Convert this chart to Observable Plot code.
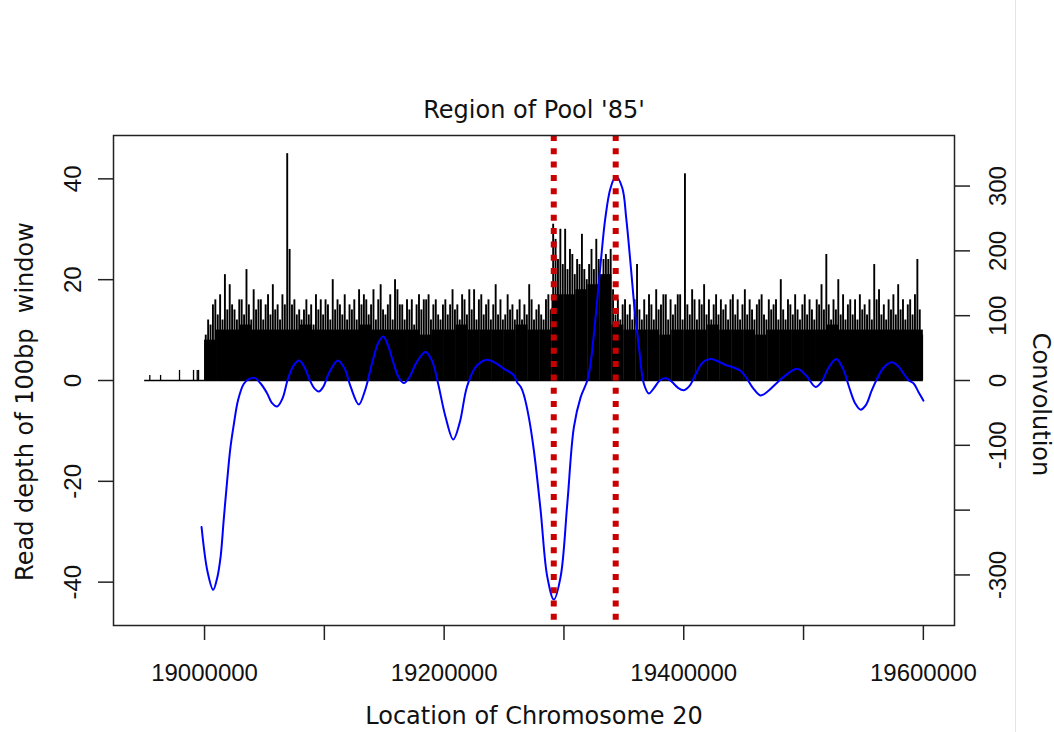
<!DOCTYPE html>
<html><head><meta charset="utf-8">
<script src="https://cdn.jsdelivr.net/npm/d3@7"></script>
<script src="https://cdn.jsdelivr.net/npm/@observablehq/plot@0.6"></script>
<style>
html,body{margin:0;padding:0;background:#fff;}
#chart{position:relative;width:1054px;height:732px;overflow:hidden;}
#edge{position:absolute;left:1015px;top:0;width:1px;height:732px;background:#e4e4e4;}
</style></head><body><div id="chart"><div id="edge"></div></div>
<script>
// ---------- text ----------
const title = "Region of Pool '85'";
const xLabel = "Location of Chromosome 20";
const yLabel = "Read depth of 100bp  window";
const y2Label = "Convolution";

// ---------- read depth (100bp windows, summarised) ----------
const readStart = 18950000;
const readEnd = 19600000;
const sparsePos = [18954300, 18963300, 18979100, 18990800, 18993900, 18995000];
const sparseDepth = [1, 1, 2, 2, 2, 2];

// solid body level of the dense read depth, 10 kb bins from 19,000,000
const floorStart = 19000000;
const floorStep = 10000;
const floorDepth = [8,10,10,11,10,10,10,10,11,10, 10,10,10,11,10,10,10,10,9,10,
  10,11,10,10,10,10,11,10,10,17, 17,18,19,21,11,10,10,10,9,10,
  10,10,11,10,10,10,9,10,10,10, 10,10,11,10,10,10,10,10,10,10];

// visible window tops, 2 kb bins from 19,000,000
const binStart = 19000000;
const binStep = 2000;
const binDepth = [
  9,12,11,15,16,13,17,12,21,14,
  19,15,14,12,16,16,13,22,15,12,
  18,14,16,16,12,15,17,13,19,14,
  15,12,17,15,45,26,15,16,13,14,
  12,14,16,13,15,11,17,14,16,13,
  16,15,12,20,14,16,15,13,17,12,
  15,14,16,12,18,15,17,16,13,15,
  18,12,16,19,14,13,15,17,12,20,
  18,15,15,12,16,14,16,11,15,17,
  14,16,16,17,12,15,16,13,12,15,
  16,13,15,18,14,15,12,17,16,13,
  18,14,18,12,16,17,13,15,16,12,
  15,19,13,16,12,13,17,14,15,12,
  14,16,12,15,13,19,16,12,14,15,
  13,12,16,17,14,31,28,24,30,23,
  30,22,26,25,21,24,23,29,22,20,
  23,26,22,28,24,20,24,25,24,26,
  18,13,16,12,15,16,13,15,12,16,
  23,14,12,16,13,17,15,12,18,14,
  15,17,17,12,16,13,15,17,17,12,
  41,15,13,18,16,12,16,15,19,13,
  16,12,15,17,13,16,14,15,12,16,
  17,13,16,12,15,18,13,16,14,12,
  15,16,17,13,12,16,14,15,16,12,
  20,14,12,16,15,13,17,14,12,15,
  17,13,16,14,12,16,15,19,14,25,
  15,12,16,14,20,13,17,12,15,16,
  13,16,12,17,14,15,13,16,12,23,
  16,18,13,15,12,16,14,17,13,19,
  14,16,12,15,16,13,17,24,14,9];

// ---------- convolution ----------
const convPos = [18997500,19002500,19007200,19010500,19013400,19016000,19018900,19021500,19024500,19028000,
  19032800,19037000,19041700,19047000,19052300,19056000,19060600,19065000,19070000,19075000,
  19079000,19083000,19088000,19092000,19095400,19099000,19104000,19111300,19117000,19122000,
  19128800,19134000,19140000,19145000,19149200,19153000,19158000,19162000,19166400,19171000,
  19177000,19184500,19190000,19195000,19201000,19207600,19213000,19219000,19226000,19235400,
  19242000,19250000,19258200,19261000,19264000,19266500,19270500,19274900,19280500,19286100,
  19291600,19297200,19302800,19308300,19313900,19319500,19322200,19326000,19330600,19334500,
  19338900,19343400,19348700,19352000,19355600,19359000,19362600,19366700,19370900,19375000,
  19380000,19384800,19390000,19395000,19400100,19405000,19410000,19416000,19422400,19428000,
  19435000,19441800,19447400,19452000,19458000,19464100,19470000,19477000,19485000,19494700,
  19502000,19510000,19515000,19521000,19527300,19533000,19538000,19543000,19547600,19552000,
  19557000,19562000,19567000,19573500,19579000,19583800,19588000,19592100,19596000,19600000];
const convVal = [-226,-295,-323,-305,-272,-215,-154,-105,-67,-30,
  -5,2,4,-5,-20,-34,-40,-28,5,25,
  31,22,0,-13,-17,-10,12,31,18,-10,
  -37,-15,28,58,68,55,25,5,-4,5,
  28,44,30,-5,-55,-91,-65,-10,20,32,
  28,18,8,-3,-10,-22,-55,-108,-200,-303,
  -338,-303,-190,-72,-26,0,26,90,180,250,
  297,315,297,250,180,110,51,-5,-20,-12,
  0,4,-2,-11,-15,-8,10,28,33,30,
  24,20,15,5,-12,-23,-17,-5,8,18,
  8,-10,-2,20,33,18,-10,-35,-45,-38,
  -15,5,20,28,22,10,0,-5,-18,-31];

// candidate breakpoints (convolution minimum / maximum)
const peakPos = [19291500, 19343200];

// ---------- axes ----------
const xTicks = [19000000,19100000,19200000,19300000,19400000,19500000,19600000];
const xTickLabels = [19000000,19200000,19400000,19600000];
const yTicks = [-40,-20,0,20,40];
const convTicks = [-300,-200,-100,0,100,200,300];
const convTickLabels = [-300,-100,0,100,200,300];
const yLimit = 45;
const convLimit = 350;

// ---------- build ----------
const k = yLimit / convLimit;
const span = readEnd - readStart;
const xDomain = [readStart - 0.04 * span, readEnd + 0.04 * span];
const yDomain = [-yLimit * 1.08, yLimit * 1.08];

const floorData = floorDepth.map((d, i) => ({x1: floorStart + i * floorStep, x2: floorStart + (i + 1) * floorStep, y: d}));
const binData = binDepth.map((d, i) => ({x: binStart + i * binStep + binStep / 2, y: d}));
const sparseData = sparsePos.map((p, i) => ({x: p, y: sparseDepth[i]}));
const convData = convPos.map((p, i) => ({x: p, y: convVal[i] * k}));

const tickFont = "Liberation Sans, Arial, sans-serif";
const labelFont = "DejaVu Sans, sans-serif";
const T = {fontSize: 24, fill: "#111", textAnchor: "middle", lineAnchor: "middle"};

const chart = Plot.plot({
  width: 1054,
  height: 732,
  marginLeft: 113,
  marginRight: 100,
  marginTop: 135,
  marginBottom: 107,
  style: {background: "white", overflow: "visible"},
  x: {type: "linear", domain: xDomain},
  y: {type: "linear", domain: yDomain},
  marks: [
    Plot.axisX(xTicks, {anchor: "bottom", tickSize: 15, tickFormat: () => "", label: null, strokeWidth: 1.5, stroke: "#222"}),
    Plot.axisY(yTicks, {anchor: "left", tickSize: 15, tickFormat: () => "", label: null, strokeWidth: 1.5, stroke: "#222"}),
    Plot.axisY(convTicks.map(c => c * k), {anchor: "right", tickSize: 15, tickFormat: () => "", label: null, strokeWidth: 1.5, stroke: "#222"}),
    Plot.ruleY([0], {x1: readStart, x2: readEnd, stroke: "black", strokeWidth: 1.5}),
    Plot.rectY(floorData, {x1: "x1", x2: "x2", y: "y", fill: "black"}),
    Plot.ruleX(binData, {x: "x", y1: 0, y2: "y", stroke: "black", strokeWidth: 1.9}),
    Plot.ruleX(sparseData, {x: "x", y1: 0, y2: "y", stroke: "black", strokeWidth: 1.3}),
    Plot.line(convData, {x: "x", y: "y", stroke: "#0000ff", strokeWidth: 2, curve: "catmull-rom"}),
    Plot.ruleX(peakPos, {stroke: "#c80000", strokeWidth: 6, strokeDasharray: "6,7.3"}),
    Plot.frame({stroke: "#222", strokeWidth: 1.5}),
    // tick labels
    Plot.text(xTickLabels, {...T, x: d => d, text: d => String(d), frameAnchor: "bottom", dy: 48, fontFamily: tickFont}),
    Plot.text(yTicks, {...T, y: d => d, text: d => String(d), frameAnchor: "left", dx: -40.5, rotate: -90, fontFamily: tickFont}),
    Plot.text(convTickLabels, {...T, y: d => d * k, text: d => String(d), frameAnchor: "right", dx: 44, rotate: -90, fontFamily: tickFont}),
    // titles
    Plot.text([title], {...T, text: d => d, frameAnchor: "top", dy: -25.5, fontFamily: labelFont}),
    Plot.text([xLabel], {...T, text: d => d, frameAnchor: "bottom", dy: 91, fontFamily: labelFont}),
    Plot.text([yLabel], {...T, text: d => d, frameAnchor: "left", dx: -88, dy: 21, rotate: -90, fontFamily: labelFont}),
    Plot.text([y2Label], {...T, text: d => d, frameAnchor: "right", dx: 86, dy: 24, rotate: 90, fontFamily: labelFont})
  ]
});
document.getElementById("chart").prepend(chart);
</script></body></html>
